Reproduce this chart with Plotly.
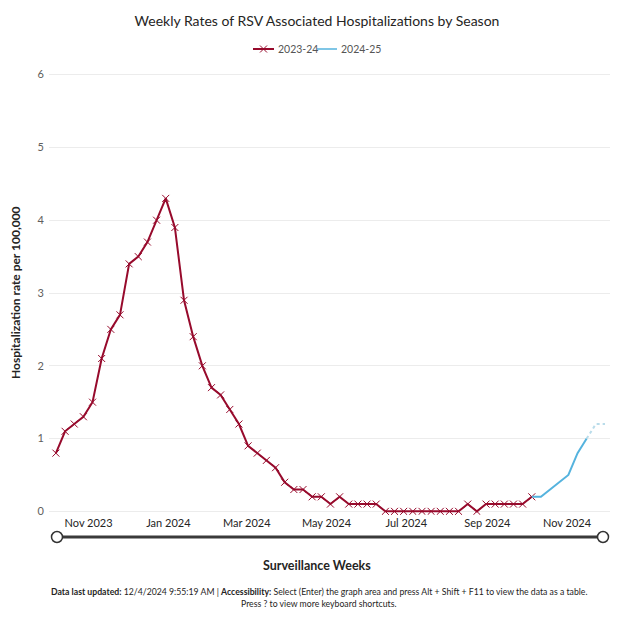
import pandas as pd
import plotly.graph_objects as go

# ---------------- data ----------------
season_2324_start = "2023-10-07"
rates_2324 = [0.8, 1.1, 1.2, 1.3, 1.5, 2.1, 2.5, 2.7, 3.4, 3.5, 3.7, 4.0, 4.3,
              3.9, 2.9, 2.4, 2.0, 1.7, 1.6, 1.4, 1.2, 0.9, 0.8, 0.7, 0.6, 0.4,
              0.3, 0.3, 0.2, 0.2, 0.1, 0.2, 0.1, 0.1, 0.1, 0.1, 0.0, 0.0, 0.0,
              0.0, 0.0, 0.0, 0.0, 0.0, 0.0, 0.1, 0.0, 0.1, 0.1, 0.1, 0.1, 0.1,
              0.2]
season_2425_start = "2024-10-05"
rates_2425 = [0.2, 0.2, 0.3, 0.4, 0.5, 0.8, 1.0]
prelim_2425_start = "2024-11-16"
rates_2425_prelim = [1.0, 1.2, 1.2]

series_names = ["2023-24", "2024-25"]
y_ticks = [0, 1, 2, 3, 4, 5, 6]

dates_2324 = pd.date_range(season_2324_start, periods=len(rates_2324), freq="7D")
dates_2425 = pd.date_range(season_2425_start, periods=len(rates_2425), freq="7D")
dates_prelim = pd.date_range(prelim_2425_start, periods=len(rates_2425_prelim), freq="7D")

# ---------------- layout geometry ----------------
W, H = 634, 632
ML, MR, MT, MB = 49, 24, 71, 117
PW = W - ML - MR
PH = H - MT - MB


def px_x(px):
    return (px - ML) / PW


def px_y(py):
    return (H - MB - py) / PH


RED = "#970a2c"
BLUE = "#55b3de"
FONT = "Lato, 'Open Sans', sans-serif"

fig = go.Figure()
fig.add_trace(go.Scatter(
    x=dates_2324, y=rates_2324, name=series_names[0], mode="lines+markers",
    line=dict(color=RED, width=2), showlegend=False,
    marker=dict(symbol="x-thin", size=7, color=RED, line=dict(color=RED, width=1)),
))
fig.add_trace(go.Scatter(
    x=dates_2425, y=rates_2425, name=series_names[1], mode="lines",
    line=dict(color=BLUE, width=2), showlegend=False,
))
fig.add_trace(go.Scatter(
    x=dates_prelim, y=rates_2425_prelim, name=series_names[1], mode="lines",
    line=dict(color="#b9dcea", width=2, dash="dot"), showlegend=False,
))

fig.update_layout(
    width=W, height=H,
    margin=dict(l=ML, r=MR, t=MT, b=MB),
    paper_bgcolor="white", plot_bgcolor="white",
    font=dict(family=FONT, color="#333333", size=11),
    title=dict(text="Weekly Rates of RSV Associated Hospitalizations by Season",
               x=0.5, xanchor="center", y=1 - 21 / H, yanchor="middle",
               font=dict(size=14, color="#252423")),
    showlegend=False,
    xaxis=dict(type="date", range=["2023-10-01 17:00", "2024-12-03 20:00"],
               tick0="2023-11-01", dtick="M2", tickformat="%b %Y",
               showgrid=False, zeroline=False, showline=False, ticks="",
               tickfont=dict(size=11, color="#252423")),
    yaxis=dict(range=[-0.05, 6.05], tickvals=y_ticks, showgrid=True,
               gridcolor="#ececec", gridwidth=1, zeroline=False, showline=False,
               ticks="", ticklabelstandoff=4, tickfont=dict(size=11, color="#605e5c")),
)

# compact legend (line swatches + labels)
LEG_Y = 49
legend_items = [(253, 274, 276, RED, True), (317, 337, 339, BLUE, False)]
for name, (lx0, lx1, tx, col, has_x) in zip(series_names, legend_items):
    fig.add_shape(type="line", xref="paper", yref="paper",
                  x0=px_x(lx0), x1=px_x(lx1), y0=px_y(LEG_Y), y1=px_y(LEG_Y),
                  line=dict(color=col, width=2 if has_x else 1.5))
    if has_x:
        cx = (lx0 + lx1) / 2
        for d in (1, -1):
            fig.add_shape(type="line", xref="paper", yref="paper",
                          x0=px_x(cx - 3.5), x1=px_x(cx + 3.5),
                          y0=px_y(LEG_Y - 3.5 * d), y1=px_y(LEG_Y + 3.5 * d),
                          line=dict(color=col, width=1))
    fig.add_annotation(text=name, xref="paper", yref="paper", x=px_x(tx), y=px_y(LEG_Y),
                       xanchor="left", yanchor="middle", showarrow=False,
                       font=dict(size=10.5, color="#555555"))

fig.add_annotation(text="<b>Hospitalization rate per 100,000</b>", textangle=-90,
                   xref="paper", yref="paper", x=px_x(15), y=px_y(293),
                   xanchor="center", yanchor="middle", showarrow=False,
                   font=dict(size=12, color="#252423"))
fig.add_annotation(text="<b>Surveillance Weeks</b>",
                   xref="paper", yref="paper", x=px_x(317), y=px_y(565),
                   xanchor="center", yanchor="middle", showarrow=False,
                   font=dict(size=12.5, color="#252423"))
fig.add_annotation(text="<b>Data last updated:</b> 12/4/2024 9:55:19 AM | <b>Accessibility:</b> "
                        "Select (Enter) the graph area and press Alt + Shift + F11 to view the data as a table.",
                   xref="paper", yref="paper", x=px_x(319), y=px_y(591),
                   xanchor="center", yanchor="middle", showarrow=False,
                   font=dict(size=8.7, color="#252423"))
fig.add_annotation(text="Press ? to view more keyboard shortcuts.",
                   xref="paper", yref="paper", x=px_x(318), y=px_y(603),
                   xanchor="center", yanchor="middle", showarrow=False,
                   font=dict(size=8.7, color="#252423"))

# zoom slider
fig.add_shape(type="line", xref="paper", yref="paper",
              x0=px_x(57), x1=px_x(603), y0=px_y(537), y1=px_y(537),
              line=dict(color="#3a3a3a", width=3))
for cx in (57, 603):
    r = 5.5
    fig.add_shape(type="circle", xref="paper", yref="paper",
                  x0=px_x(cx - r), x1=px_x(cx + r), y0=px_y(537 + r), y1=px_y(537 - r),
                  fillcolor="white", line=dict(color="#333333", width=1.5))

fig.write_html("out.html", config={"displayModeBar": False},
               post_script="document.body.style.margin='0';")
